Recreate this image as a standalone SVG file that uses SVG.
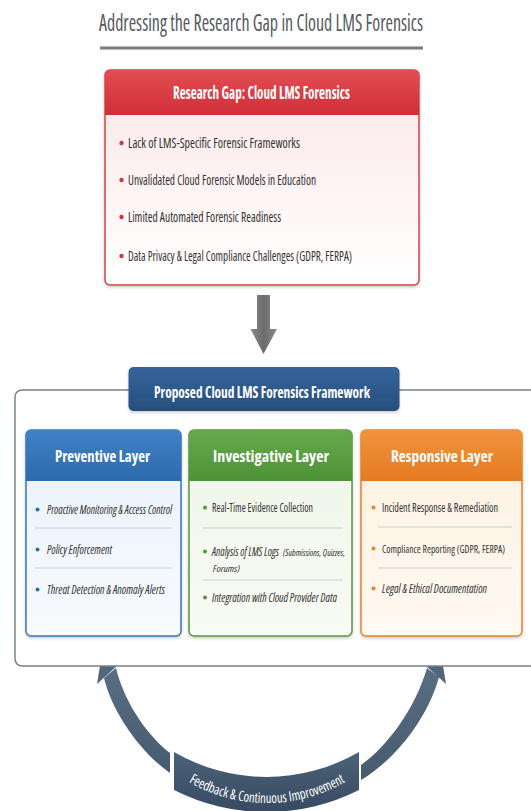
<svg xmlns="http://www.w3.org/2000/svg" width="531" height="811" viewBox="0 0 531 811">
<style>
  text { font-family: "Open Sans", "Liberation Sans", sans-serif; font-stretch: condensed; }
  .title { font-size: 23px; fill: #555a60; }
  .hdr { font-size: 17px; font-weight: bold; fill: #ffffff; }
  .colhdr { font-size: 15.5px; font-weight: bold; fill: #ffffff; }
  .item { font-size: 14px; fill: #333333; }
  .citem { font-size: 12px; fill: #333333; }
  .small { font-size: 9.5px; fill: #333333; font-style: italic; }
  .it { font-style: italic; }
  .sep { stroke: #c8ced4; stroke-width: 1; }
  .fb { font-size: 14px; fill: #ffffff; }
</style>
<defs>
  <linearGradient id="gRedH" x1="0" y1="0" x2="0" y2="1"><stop offset="0" stop-color="#e34d53"/><stop offset="1" stop-color="#cf2f37"/></linearGradient>
  <linearGradient id="gRedB" x1="0" y1="0" x2="0" y2="1"><stop offset="0" stop-color="#fce6e7"/><stop offset="1" stop-color="#ffffff"/></linearGradient>
  <linearGradient id="gBlueH" x1="0" y1="0" x2="0" y2="1"><stop offset="0" stop-color="#3f82c6"/><stop offset="1" stop-color="#2d6aab"/></linearGradient>
  <linearGradient id="gBlueB" x1="0" y1="0" x2="0" y2="1"><stop offset="0" stop-color="#e8f1fa"/><stop offset="1" stop-color="#f8fbfe"/></linearGradient>
  <linearGradient id="gGreenH" x1="0" y1="0" x2="0" y2="1"><stop offset="0" stop-color="#64aa4b"/><stop offset="1" stop-color="#4e9237"/></linearGradient>
  <linearGradient id="gGreenB" x1="0" y1="0" x2="0" y2="1"><stop offset="0" stop-color="#eef5e6"/><stop offset="1" stop-color="#f9fbf5"/></linearGradient>
  <linearGradient id="gOrH" x1="0" y1="0" x2="0" y2="1"><stop offset="0" stop-color="#f1933c"/><stop offset="1" stop-color="#e47b22"/></linearGradient>
  <linearGradient id="gOrB" x1="0" y1="0" x2="0" y2="1"><stop offset="0" stop-color="#fdf0df"/><stop offset="1" stop-color="#fffaf3"/></linearGradient>
  <linearGradient id="gNavy" x1="0" y1="0" x2="0" y2="1"><stop offset="0" stop-color="#35649a"/><stop offset="1" stop-color="#274f7e"/></linearGradient>
  <linearGradient id="gGray" x1="0" y1="0" x2="1" y2="0"><stop offset="0" stop-color="#8a8a8a"/><stop offset="0.5" stop-color="#6c6c6c"/><stop offset="1" stop-color="#8a8a8a"/></linearGradient>
  <linearGradient id="gSlate" x1="0" y1="0" x2="0" y2="1"><stop offset="0" stop-color="#5a6e83"/><stop offset="1" stop-color="#475b70"/></linearGradient>
  <linearGradient id="gBanner" x1="0" y1="0" x2="0" y2="1"><stop offset="0" stop-color="#4d6279"/><stop offset="1" stop-color="#364b61"/></linearGradient>
  <filter id="sh" x="-10%" y="-10%" width="120%" height="120%"><feDropShadow dx="0" dy="1.5" stdDeviation="1.5" flood-color="#000" flood-opacity="0.22"/></filter>
</defs>
<rect width="531" height="811" fill="#ffffff"/>

<g id="title">
  <text class="title" x="99" y="31" textLength="324" lengthAdjust="spacingAndGlyphs">Addressing the Research Gap in Cloud LMS Forensics</text>
  <rect x="100" y="46.5" width="323" height="3" fill="#7a7d80"/>
</g>

<g id="research-gap">
  <rect x="105" y="70" width="314" height="215" rx="5" fill="url(#gRedB)" stroke="#d8434a" stroke-width="1.5" filter="url(#sh)"/>
  <path d="M105,115 V75 Q105,70 110,70 H414 Q419,70 419,75 V115 Z" fill="url(#gRedH)"/>
  <text class="hdr" x="173" y="99" textLength="177" lengthAdjust="spacingAndGlyphs">Research Gap: Cloud LMS Forensics</text>
  <g fill="#d2363c">
    <circle cx="121.5" cy="143" r="2.2"/>
    <circle cx="121.5" cy="180" r="2.2"/>
    <circle cx="121.5" cy="217" r="2.2"/>
    <circle cx="121.5" cy="256" r="2.2"/>
  </g>
  <text class="item" x="128" y="148" textLength="172" lengthAdjust="spacingAndGlyphs">Lack of LMS-Specific Forensic Frameworks</text>
  <text class="item" x="128" y="185" textLength="188" lengthAdjust="spacingAndGlyphs">Unvalidated Cloud Forensic Models in Education</text>
  <text class="item" x="128" y="222" textLength="153" lengthAdjust="spacingAndGlyphs">Limited Automated Forensic Readiness</text>
  <text class="item" x="128" y="261" textLength="224" lengthAdjust="spacingAndGlyphs">Data Privacy &amp; Legal Compliance Challenges (GDPR, FERPA)</text>
</g>

<g id="connectors">
  <path d="M257,295 H270 V329 H277 L263.5,354 L250.5,329 H257 Z" fill="url(#gGray)"/>
  <path d="M170,753 C150,738 125,705 116,668 L104,678 C112,712 140,752 170,773 Z" fill="url(#gSlate)"/>
  <polygon points="103,647 119,664 97,684" fill="#52667b"/>
  <path d="M361,765 C385,748 414,712 427,668 L439,677 C428,718 395,760 361,780 Z" fill="url(#gSlate)"/>
  <polygon points="440,647 446,684 424,664" fill="#52667b"/>
</g>

<g id="framework">
  <rect x="15" y="390" width="530" height="276" rx="7" fill="#ffffff" stroke="#75838f" stroke-width="1.5"/>
</g>

<g id="framework-title">
  <rect x="128.5" y="367" width="271" height="44" rx="5" fill="url(#gNavy)" filter="url(#sh)"/>
  <text class="hdr" x="154" y="398" style="font-size:16.5px" textLength="216" lengthAdjust="spacingAndGlyphs">Proposed Cloud LMS Forensics Framework</text>
</g>

<g id="preventive-layer">
  <rect x="26" y="430" width="155" height="206" rx="5" fill="url(#gBlueB)" stroke="#3a76b5" stroke-width="1.5" filter="url(#sh)"/>
  <path d="M26,481 V435 Q26,430 31,430 H176 Q181,430 181,435 V481 Z" fill="url(#gBlueH)"/>
  <text class="colhdr" x="55" y="462" textLength="95" lengthAdjust="spacingAndGlyphs">Preventive Layer</text>
  <g fill="#2f6db0">
    <circle cx="37.5" cy="509.5" r="2"/>
    <circle cx="37.5" cy="549.5" r="2"/>
    <circle cx="37.5" cy="589.5" r="2"/>
  </g>
  <text class="citem it" x="47" y="514" textLength="125" lengthAdjust="spacingAndGlyphs">Proactive Monitoring &amp; Access Control</text>
  <line class="sep" x1="35" y1="528" x2="172" y2="528"/>
  <text class="citem it" x="47" y="554" textLength="65" lengthAdjust="spacingAndGlyphs">Policy Enforcement</text>
  <line class="sep" x1="35" y1="568" x2="172" y2="568"/>
  <text class="citem it" x="47" y="594" textLength="118" lengthAdjust="spacingAndGlyphs">Threat Detection &amp; Anomaly Alerts</text>
</g>

<g id="investigative-layer">
  <rect x="189" y="430" width="163" height="206" rx="5" fill="url(#gGreenB)" stroke="#58973f" stroke-width="1.5" filter="url(#sh)"/>
  <path d="M189,481 V435 Q189,430 194,430 H347 Q352,430 352,435 V481 Z" fill="url(#gGreenH)"/>
  <text class="colhdr" x="213" y="462" textLength="116" lengthAdjust="spacingAndGlyphs">Investigative Layer</text>
  <g fill="#55963a">
    <circle cx="205" cy="507.5" r="2"/>
    <circle cx="205" cy="551.5" r="2"/>
    <circle cx="205" cy="597.5" r="2"/>
  </g>
  <text class="citem" x="212" y="512" textLength="101" lengthAdjust="spacingAndGlyphs">Real-Time Evidence Collection</text>
  <line class="sep" x1="203" y1="528" x2="343" y2="528"/>
  <text class="citem it" x="212" y="556" textLength="67" lengthAdjust="spacingAndGlyphs">Analysis of LMS Logs</text>
  <text class="small" x="283" y="556" textLength="62" lengthAdjust="spacingAndGlyphs">(Submissions, Quizzes,</text>
  <text class="small" x="213" y="572" textLength="27" lengthAdjust="spacingAndGlyphs">Forums)</text>
  <line class="sep" x1="203" y1="580" x2="343" y2="580"/>
  <text class="citem it" x="212" y="602" textLength="125" lengthAdjust="spacingAndGlyphs">Integration with Cloud Provider Data</text>
</g>

<g id="responsive-layer">
  <rect x="361" y="430" width="161" height="206" rx="5" fill="url(#gOrB)" stroke="#e5832a" stroke-width="1.5" filter="url(#sh)"/>
  <path d="M361,481 V435 Q361,430 366,430 H517 Q522,430 522,435 V481 Z" fill="url(#gOrH)"/>
  <text class="colhdr" x="391" y="462" textLength="102" lengthAdjust="spacingAndGlyphs">Responsive Layer</text>
  <g fill="#e8842a">
    <circle cx="373.5" cy="507.5" r="2"/>
    <circle cx="373.5" cy="548.5" r="2"/>
    <circle cx="373.5" cy="588.5" r="2"/>
  </g>
  <text class="citem" x="382" y="512" textLength="116" lengthAdjust="spacingAndGlyphs">Incident Response &amp; Remediation</text>
  <line class="sep" x1="378" y1="527" x2="512" y2="527"/>
  <text class="citem" x="382" y="553" style="font-size:11.5px" textLength="123" lengthAdjust="spacingAndGlyphs">Compliance Reporting (GDPR, FERPA)</text>
  <line class="sep" x1="378" y1="568" x2="512" y2="568"/>
  <text class="citem it" x="382" y="593" textLength="105" lengthAdjust="spacingAndGlyphs">Legal &amp; Ethical Documentation</text>
</g>

<g id="feedback">
  <path d="M174,752 A184,184 0 0 0 359,752 L359,790 A205,205 0 0 1 174,790 Z" fill="url(#gBanner)"/>
  <path id="fbPath" d="M147.5,747.3 A156,156 0 0 0 386.5,747.3" fill="none"/>
  <text class="fb" textLength="164" lengthAdjust="spacingAndGlyphs"><textPath href="#fbPath" startOffset="50%" text-anchor="middle">Feedback &amp; Continuous Improvement</textPath></text>
</g>
</svg>
